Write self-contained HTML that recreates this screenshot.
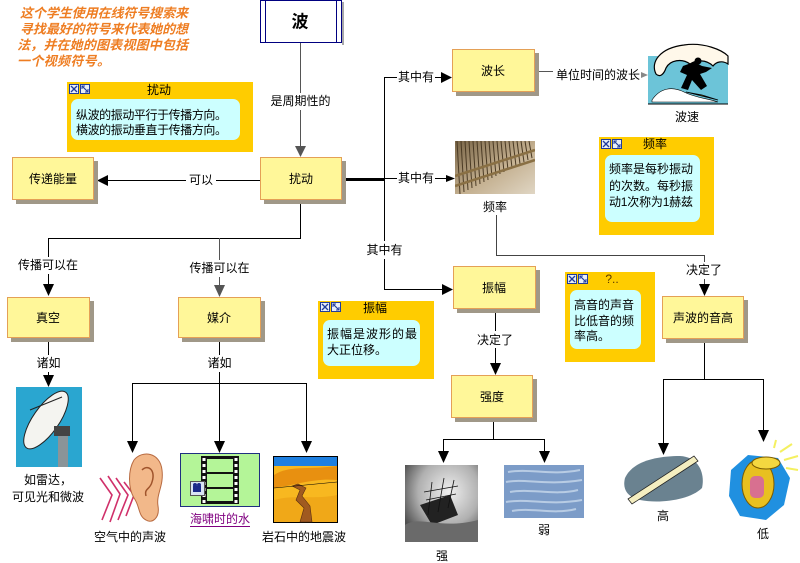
<!DOCTYPE html>
<html>
<head>
<meta charset="utf-8">
<style>
  html,body{margin:0;padding:0;background:#fff;}
  svg{display:block;}
  text{font-family:"Liberation Sans","Noto Sans CJK SC","WenQuanYi Zen Hei",sans-serif;font-size:12px;fill:#000;dominant-baseline:central;}
  .c{text-anchor:middle;}
  .or{font-size:13px;font-weight:bold;font-style:italic;fill:#EE7D22;}
</style>
</head>
<body>
<svg width="800" height="563" viewBox="0 0 800 563" xmlns="http://www.w3.org/2000/svg">
  <!-- orange text -->
  <text class="or" x="20" y="13" textLength="168">这个学生使用在线符号搜索来</text>
  <text class="or" x="20" y="29" textLength="168">寻找最好的符号来代表她的想</text>
  <text class="or" x="17" y="45" textLength="171">法，并在她的图表视图中包括</text>
  <text class="or" x="17" y="61" textLength="93">一个视频符号。</text>

  <!-- title box -->
  <rect x="342" y="2" width="2" height="43" fill="#a8a8a8"/>
  <rect x="260.5" y="0.5" width="81" height="42" fill="#fff" stroke="#000080"/>
  <line x1="265.5" y1="0" x2="265.5" y2="43" stroke="#000080"/>
  <line x1="336.5" y1="0" x2="336.5" y2="43" stroke="#000080"/>
  <text class="c" x="300" y="22" style="font-size:17px;font-weight:bold">波</text>

  <!-- connectors -->
  <g stroke="#000" stroke-width="1" fill="none">
    <line x1="300.5" y1="43" x2="300.5" y2="146" stroke="#555"/>
    <line x1="260" y1="180.5" x2="107" y2="180.5"/>
    <line x1="342" y1="179.5" x2="384" y2="179.5" stroke-width="3"/>
    <line x1="384.5" y1="77" x2="384.5" y2="289.5"/>
    <line x1="384" y1="77.5" x2="442" y2="77.5"/>
    <line x1="384" y1="178.5" x2="446" y2="178.5"/>
    <line x1="384" y1="289.5" x2="442" y2="289.5"/>
    <line x1="535" y1="71.5" x2="553" y2="71.5" stroke="#555"/>
    <polyline points="496.5,215 496.5,255.5 704.5,255.5 704.5,285" stroke="#444"/>
    <line x1="495.5" y1="309" x2="495.5" y2="363"/>
    <polyline points="300.5,200 300.5,238.5 48.5,238.5 48.5,284"/>
    <line x1="219.5" y1="238" x2="219.5" y2="285" stroke="#555"/>
    <line x1="48.5" y1="338" x2="48.5" y2="376"/>
    <line x1="219.5" y1="338" x2="219.5" y2="383"/>
    <polyline points="132.5,442 132.5,383.5 306.5,383.5 306.5,442"/>
    <line x1="219.5" y1="383" x2="219.5" y2="442"/>
    <polyline points="493.5,418 493.5,439.5"/>
    <polyline points="443.5,452 443.5,439.5 544.5,439.5 544.5,452"/>
    <polyline points="704.5,339 704.5,379.5"/>
    <polyline points="663.5,444 663.5,379.5 763.5,379.5 763.5,431"/>
  </g>
  <!-- arrowheads -->
  <g fill="#000">
    <polygon points="295,146 306,146 300.5,157" fill="#555"/>
    <polygon points="97,180.5 108,175 108,186"/>
    <polygon points="452,77.5 441,72 441,83"/>
    <polygon points="455,178.5 446,175 446,182"/>
    <polygon points="453,289.5 442,284 442,295"/>
    <polygon points="648,75 641,72 641,78" fill="#888"/>
    <polygon points="699,284 710,284 704.5,296"/>
    <polygon points="490,363 501,363 495.5,375"/>
    <polygon points="43,284 54,284 48.5,296"/>
    <polygon points="214,285 225,285 219.5,297" fill="#555"/>
    <polygon points="43,375 54,375 48.5,387"/>
    <polygon points="127,441 138,441 132.5,453"/>
    <polygon points="214,441 225,441 219.5,453"/>
    <polygon points="301,441 312,441 306.5,453"/>
    <polygon points="438,451 449,451 443.5,463"/>
    <polygon points="539,451 550,451 544.5,463"/>
    <polygon points="658,443 669,443 663.5,455"/>
    <polygon points="758,430 769,430 763.5,442"/>
  </g>

  <!-- connector labels -->
  <g>
    <rect x="268" y="93" width="65" height="17" fill="#fff"/>
    <text class="c" x="300.5" y="101">是周期性的</text>
    <rect x="186" y="172" width="30" height="17" fill="#fff"/>
    <text class="c" x="201" y="180">可以</text>
    <rect x="397" y="69" width="38" height="17" fill="#fff"/>
    <text class="c" x="416" y="77">其中有</text>
    <rect x="397" y="170" width="38" height="17" fill="#fff"/>
    <text class="c" x="416" y="178">其中有</text>
    <rect x="365" y="241" width="39" height="18" fill="#fff"/>
    <text class="c" x="384.5" y="250">其中有</text>
    <text class="c" x="598" y="75">单位时间的波长</text>
    <rect x="684" y="262" width="40" height="17" fill="#fff"/>
    <text class="c" x="704" y="270">决定了</text>
    <rect x="475" y="331" width="40" height="17" fill="#fff"/>
    <text class="c" x="495" y="340">决定了</text>
    <rect x="17" y="257" width="62" height="17" fill="#fff"/>
    <text class="c" x="48" y="265">传播可以在</text>
    <rect x="188" y="260" width="63" height="17" fill="#fff"/>
    <text class="c" x="219.5" y="268">传播可以在</text>
    <rect x="34" y="355" width="29" height="17" fill="#fff"/>
    <text class="c" x="48.5" y="363">诸如</text>
    <rect x="205" y="355" width="29" height="17" fill="#fff"/>
    <text class="c" x="219.5" y="363">诸如</text>
  </g>

  <!-- concept boxes -->
  <g>
    <rect x="16" y="161" width="82" height="43" fill="#A09888"/>
    <rect x="12.5" y="157.5" width="81" height="42" fill="#FFF799" stroke="#E4A056"/>
    <text class="c" x="53" y="179">传递能量</text>

    <rect x="264" y="161" width="82" height="43" fill="#A09888"/>
    <rect x="260.5" y="157.5" width="81" height="42" fill="#FFF799" stroke="#E4A056"/>
    <text class="c" x="301" y="179">扰动</text>

    <rect x="456" y="53" width="83" height="43" fill="#A09888"/>
    <rect x="452.5" y="49.5" width="82" height="42" fill="#FFF799" stroke="#E4A056"/>
    <text class="c" x="493" y="71">波长</text>

    <rect x="457" y="270" width="83" height="43" fill="#A09888"/>
    <rect x="453.5" y="266.5" width="82" height="42" fill="#FFF799" stroke="#E4A056"/>
    <text class="c" x="494" y="288">振幅</text>

    <rect x="455" y="379" width="82" height="43" fill="#A09888"/>
    <rect x="451.5" y="375.5" width="81" height="42" fill="#FFF799" stroke="#E4A056"/>
    <text class="c" x="492" y="397">强度</text>

    <rect x="11" y="301" width="83" height="41" fill="#A09888"/>
    <rect x="7.5" y="297.5" width="82" height="40" fill="#FFF799" stroke="#E4A056"/>
    <text class="c" x="48" y="318">真空</text>

    <rect x="182" y="301" width="83" height="41" fill="#A09888"/>
    <rect x="178.5" y="297.5" width="82" height="40" fill="#FFF799" stroke="#E4A056"/>
    <text class="c" x="219" y="318">媒介</text>

    <rect x="666" y="300" width="82" height="43" fill="#A09888"/>
    <rect x="662.5" y="296.5" width="81" height="42" fill="#FFF799" stroke="#E4A056"/>
    <text class="c" x="703" y="318">声波的音高</text>
  </g>

  <!-- notes -->
  <defs>
    <g id="ic">
      <rect x="0.5" y="0.5" width="9" height="9" fill="#E8EEF8" stroke="#203C9C"/>
      <line x1="2" y1="2" x2="8" y2="8" stroke="#203C9C" stroke-width="1.3"/>
      <line x1="8" y1="2" x2="2" y2="8" stroke="#203C9C" stroke-width="1.3"/>
      <rect x="11.5" y="0.5" width="9" height="9" fill="#E8EEF8" stroke="#203C9C"/>
      <line x1="13" y1="2" x2="19" y2="8" stroke="#203C9C" stroke-width="1.2"/>
      <polyline points="13,5 13,2 16,2" fill="none" stroke="#203C9C"/>
      <polyline points="19,5 19,8 16,8" fill="none" stroke="#203C9C"/>
    </g>
  </defs>
  <g>
    <rect x="67" y="82" width="186" height="70" fill="#FFCC00"/>
    <use href="#ic" x="69" y="84"/>
    <text class="c" x="159" y="90">扰动</text>
    <rect x="71" y="99" width="169" height="41" rx="7" fill="#CCFFFF"/>
    <text x="76" y="115" textLength="151">纵波的振动平行于传播方向。</text>
    <text x="76" y="130" textLength="151">横波的振动垂直于传播方向。</text>

    <rect x="599" y="137" width="115" height="98" fill="#FFCC00"/>
    <use href="#ic" x="601" y="139"/>
    <text class="c" x="655" y="144">频率</text>
    <rect x="605" y="155" width="95" height="67" rx="7" fill="#CCFFFF"/>
    <text x="609" y="169" textLength="84">频率是每秒振动</text>
    <text x="609" y="186" textLength="84">的次数。每秒振</text>
    <text x="609" y="202" textLength="84">动1次称为1赫兹</text>

    <rect x="318" y="301" width="116" height="78" fill="#FFCC00"/>
    <use href="#ic" x="320" y="302"/>
    <text class="c" x="375" y="308">振幅</text>
    <rect x="323" y="320" width="97" height="46" rx="7" fill="#CCFFFF"/>
    <text x="327" y="334" textLength="90">振幅是波形的最</text>
    <text x="327" y="350">大正位移。</text>

    <rect x="565" y="272" width="90" height="90" fill="#FFCC00"/>
    <use href="#ic" x="567" y="274"/>
    <text class="c" x="612" y="279" style="fill:#5a3a00">?..</text>
    <rect x="570" y="290" width="71" height="59" rx="7" fill="#CCFFFF"/>
    <text x="574" y="305" textLength="60">高音的声音</text>
    <text x="574" y="321" textLength="60">比低音的频</text>
    <text x="574" y="336">率高。</text>
  </g>

  <!-- surfer image -->
  <g>
    <rect x="648" y="56" width="80" height="48" fill="#6CC4D8"/>
    <path d="M656,74 C650,62 660,48 684,45 C704,42 722,50 728,56 L728,64 C722,60 716,62 713,66 C706,59 696,60 690,64 C682,58 670,60 666,68 C664,74 660,78 656,74 Z" fill="#FFF8EA" stroke="#000" stroke-width="1.2"/>
    <path d="M683,66 L694,62 L702,66 L712,68 L706,72 L700,74 L707,86 L701,90 L692,80 L688,90 L681,88 L687,75 L680,72 Z" fill="#000"/>
    <circle cx="698" cy="61" r="3.5" fill="#000"/>
    <path d="M686,92 L718,100 L702,95 Z" fill="#F4C820" stroke="#000" stroke-width="0.8"/>
    <path d="M652,100 C660,88 672,86 684,92 C696,98 706,98 718,102 L652,102 Z" fill="#fff" stroke="#000" stroke-width="0.6"/>
    <line x1="648" y1="104" x2="728" y2="104" stroke="#000"/>
  </g>
  <text class="c" x="687" y="117">波速</text>

  <!-- frequency image (fence) -->
  <g>
    <defs>
      <linearGradient id="fg" x1="0" y1="0" x2="1" y2="1">
        <stop offset="0" stop-color="#7A6648"/>
        <stop offset="0.55" stop-color="#C4B090"/>
        <stop offset="1" stop-color="#E0D6C4"/>
      </linearGradient>
      <clipPath id="fc"><rect x="455" y="141" width="80" height="53"/></clipPath>
    </defs>
    <rect x="455" y="141" width="80" height="53" fill="url(#fg)"/>
    <g clip-path="url(#fc)" stroke="#4A3A24" stroke-width="1">
      <line x1="457" y1="141" x2="460" y2="194"/><line x1="461" y1="141" x2="464" y2="192"/>
      <line x1="465" y1="141" x2="468" y2="190"/><line x1="469" y1="141" x2="472" y2="188"/>
      <line x1="473" y1="141" x2="476" y2="186"/><line x1="477" y1="141" x2="480" y2="184"/>
      <line x1="481" y1="141" x2="484" y2="182"/><line x1="485" y1="141" x2="488" y2="180"/>
      <line x1="489" y1="141" x2="492" y2="178"/><line x1="493" y1="141" x2="496" y2="176"/>
      <line x1="497" y1="141" x2="500" y2="174"/><line x1="501" y1="141" x2="504" y2="172"/>
      <line x1="505" y1="141" x2="508" y2="170"/><line x1="509" y1="141" x2="512" y2="168"/>
      <line x1="513" y1="141" x2="516" y2="166"/><line x1="517" y1="141" x2="520" y2="164"/>
      <line x1="521" y1="141" x2="524" y2="162"/><line x1="525" y1="141" x2="528" y2="160"/>
      <line x1="529" y1="141" x2="532" y2="158"/>
    </g>
    <g clip-path="url(#fc)" stroke="#8A7044" stroke-width="2.5" fill="none">
      <path d="M455,176 L535,150"/>
      <path d="M455,186 L535,160"/>
    </g>
  </g>
  <text class="c" x="495" y="207">频率</text>

  <!-- radar image -->
  <g>
    <rect x="16" y="387" width="66" height="80" fill="#2AA6D0"/>
    <ellipse cx="46" cy="420" rx="13" ry="34" transform="rotate(35 46 420)" fill="#F4F4F0" stroke="#222"/>
    <line x1="30" y1="410" x2="62" y2="397" stroke="#222"/>
    <rect x="58" y="432" width="10" height="35" fill="#8A9498"/>
    <rect x="54" y="426" width="16" height="10" fill="#444"/>
  </g>
  <text class="c" x="48" y="480">如雷达，</text>
  <text class="c" x="48" y="497">可见光和微波</text>

  <!-- ear image -->
  <g>
    <g fill="none" stroke="#D0306A" stroke-width="1.6">
      <polyline points="100,478 112,495 102,520"/>
      <polyline points="108,476 120,494 110,522"/>
      <polyline points="116,478 128,495 118,520"/>
      <polyline points="124,482 134,495 126,516"/>
    </g>
    <path d="M134,460 C142,450 160,452 162,470 C164,486 156,494 158,506 C160,518 152,524 146,520 C138,516 140,506 134,498 C128,488 128,470 134,460 Z" fill="#F2B88A" stroke="#B86A40"/>
    <path d="M142,470 C148,464 156,470 152,482 C150,490 144,488 146,496" fill="none" stroke="#A0542C" stroke-width="1.5"/>
  </g>
  <text class="c" x="130" y="537">空气中的声波</text>

  <!-- film image -->
  <g>
    <rect x="180.5" y="453.5" width="79" height="53" fill="#B4F598" stroke="#203080"/>
    <rect x="201" y="456" width="38" height="48" fill="#111"/>
    <rect x="207" y="459" width="26" height="13" fill="#B4F598"/>
    <rect x="207" y="474" width="26" height="13" fill="#B4F598"/>
    <rect x="207" y="489" width="26" height="12" fill="#B4F598"/>
    <g fill="#fff">
      <rect x="202.5" y="458" width="3" height="3"/><rect x="202.5" y="464" width="3" height="3"/><rect x="202.5" y="470" width="3" height="3"/><rect x="202.5" y="476" width="3" height="3"/><rect x="202.5" y="482" width="3" height="3"/><rect x="202.5" y="488" width="3" height="3"/><rect x="202.5" y="494" width="3" height="3"/><rect x="202.5" y="500" width="3" height="3"/>
      <rect x="234.5" y="458" width="3" height="3"/><rect x="234.5" y="464" width="3" height="3"/><rect x="234.5" y="470" width="3" height="3"/><rect x="234.5" y="476" width="3" height="3"/><rect x="234.5" y="482" width="3" height="3"/><rect x="234.5" y="488" width="3" height="3"/><rect x="234.5" y="494" width="3" height="3"/><rect x="234.5" y="500" width="3" height="3"/>
    </g>
    <rect x="190.5" y="481.5" width="14" height="14" fill="#D8E4F4" stroke="#555"/>
    <rect x="193" y="486" width="8" height="6" fill="#1A2A8A"/>
    <circle cx="195" cy="485" r="2" fill="#1A2A8A"/><circle cx="199" cy="485" r="2" fill="#1A2A8A"/>
  </g>
  <text class="c" x="220" y="519" style="fill:#800080">海啸时的水</text>
  <line x1="190" y1="526.5" x2="250" y2="526.5" stroke="#800080"/>

  <!-- earthquake image -->
  <g>
    <rect x="273.5" y="456.5" width="64" height="66" fill="#F8B820" stroke="#000"/>
    <rect x="274" y="457" width="63" height="9" fill="#1E7FE0"/>
    <path d="M274,475 C290,465 305,470 337,466 L337,480 C315,478 300,484 274,488 Z" fill="#E89010"/>
    <path d="M274,500 C295,494 315,500 337,495 L337,522 L274,522 Z" fill="#F0A818"/>
    <path d="M292,486 L300,490 L296,500 L304,508 L300,522 L312,522 L310,506 L302,496 L306,488 L298,484 Z" fill="#A05A20" stroke="#5a2e10" stroke-width="0.6"/>
    <line x1="274" y1="488" x2="337" y2="482" stroke="#000" stroke-width="0.6"/>
  </g>
  <text class="c" x="304" y="537">岩石中的地震波</text>

  <!-- storm ship -->
  <g>
    <defs>
      <radialGradient id="sg" cx="0.6" cy="0.35" r="0.7">
        <stop offset="0" stop-color="#F0F0F0"/>
        <stop offset="0.6" stop-color="#B0B0B0"/>
        <stop offset="1" stop-color="#505050"/>
      </radialGradient>
    </defs>
    <rect x="405" y="465" width="73" height="77" fill="url(#sg)"/>
    <path d="M420,505 L450,495 L458,515 L432,525 Z" fill="#222"/>
    <g stroke="#111" stroke-width="0.8">
      <line x1="428" y1="515" x2="432" y2="482"/><line x1="438" y1="512" x2="444" y2="478"/><line x1="448" y1="508" x2="454" y2="480"/>
      <line x1="424" y1="492" x2="458" y2="486"/><line x1="426" y1="500" x2="456" y2="494"/>
    </g>
    <path d="M405,525 C420,515 440,530 478,520 L478,542 L405,542 Z" fill="#6a6a6a"/>
  </g>
  <text class="c" x="442" y="556">强</text>

  <!-- water -->
  <g>
    <rect x="504" y="465" width="80" height="53" fill="#7C9CC8"/>
    <g stroke="#C8D8EC" stroke-width="2" opacity="0.8" fill="none">
      <path d="M508,472 C530,468 550,476 580,470"/>
      <path d="M506,482 C525,478 545,486 582,480"/>
      <path d="M510,492 C530,488 555,496 578,490"/>
      <path d="M506,502 C528,498 548,506 582,500"/>
      <path d="M512,511 C532,507 552,515 576,509"/>
    </g>
  </g>
  <text class="c" x="544" y="530">弱</text>

  <!-- flute -->
  <g>
    <path d="M625,478 C632,462 655,456 680,456 C700,457 705,475 702,488 C690,500 660,504 640,500 C628,497 622,490 625,478 Z" fill="#6A8290"/>
    <polygon points="628,499 694,456 698,461 632,504" fill="#F4EEC0" stroke="#222" stroke-width="0.8"/>
  </g>
  <text class="c" x="663" y="516">高</text>

  <!-- tuba -->
  <g>
    <path d="M731,470 L748,455 L778,458 L790,478 L784,505 L766,520 L740,516 L729,496 Z" fill="#2090E0"/>
    <ellipse cx="758" cy="484" rx="16" ry="24" fill="#E8C020" stroke="#7a5a00"/>
    <ellipse cx="766" cy="463" rx="14" ry="6" fill="#F4D840" stroke="#7a5a00"/>
    <rect x="750" y="476" width="14" height="22" rx="5" fill="#D87090"/>
    <g stroke="#F4F060" stroke-width="2">
      <line x1="780" y1="452" x2="792" y2="444"/><line x1="784" y1="460" x2="798" y2="456"/><line x1="786" y1="468" x2="798" y2="470"/><line x1="774" y1="448" x2="776" y2="440"/>
    </g>
  </g>
  <text class="c" x="763" y="534">低</text>
</svg>
</body>
</html>
